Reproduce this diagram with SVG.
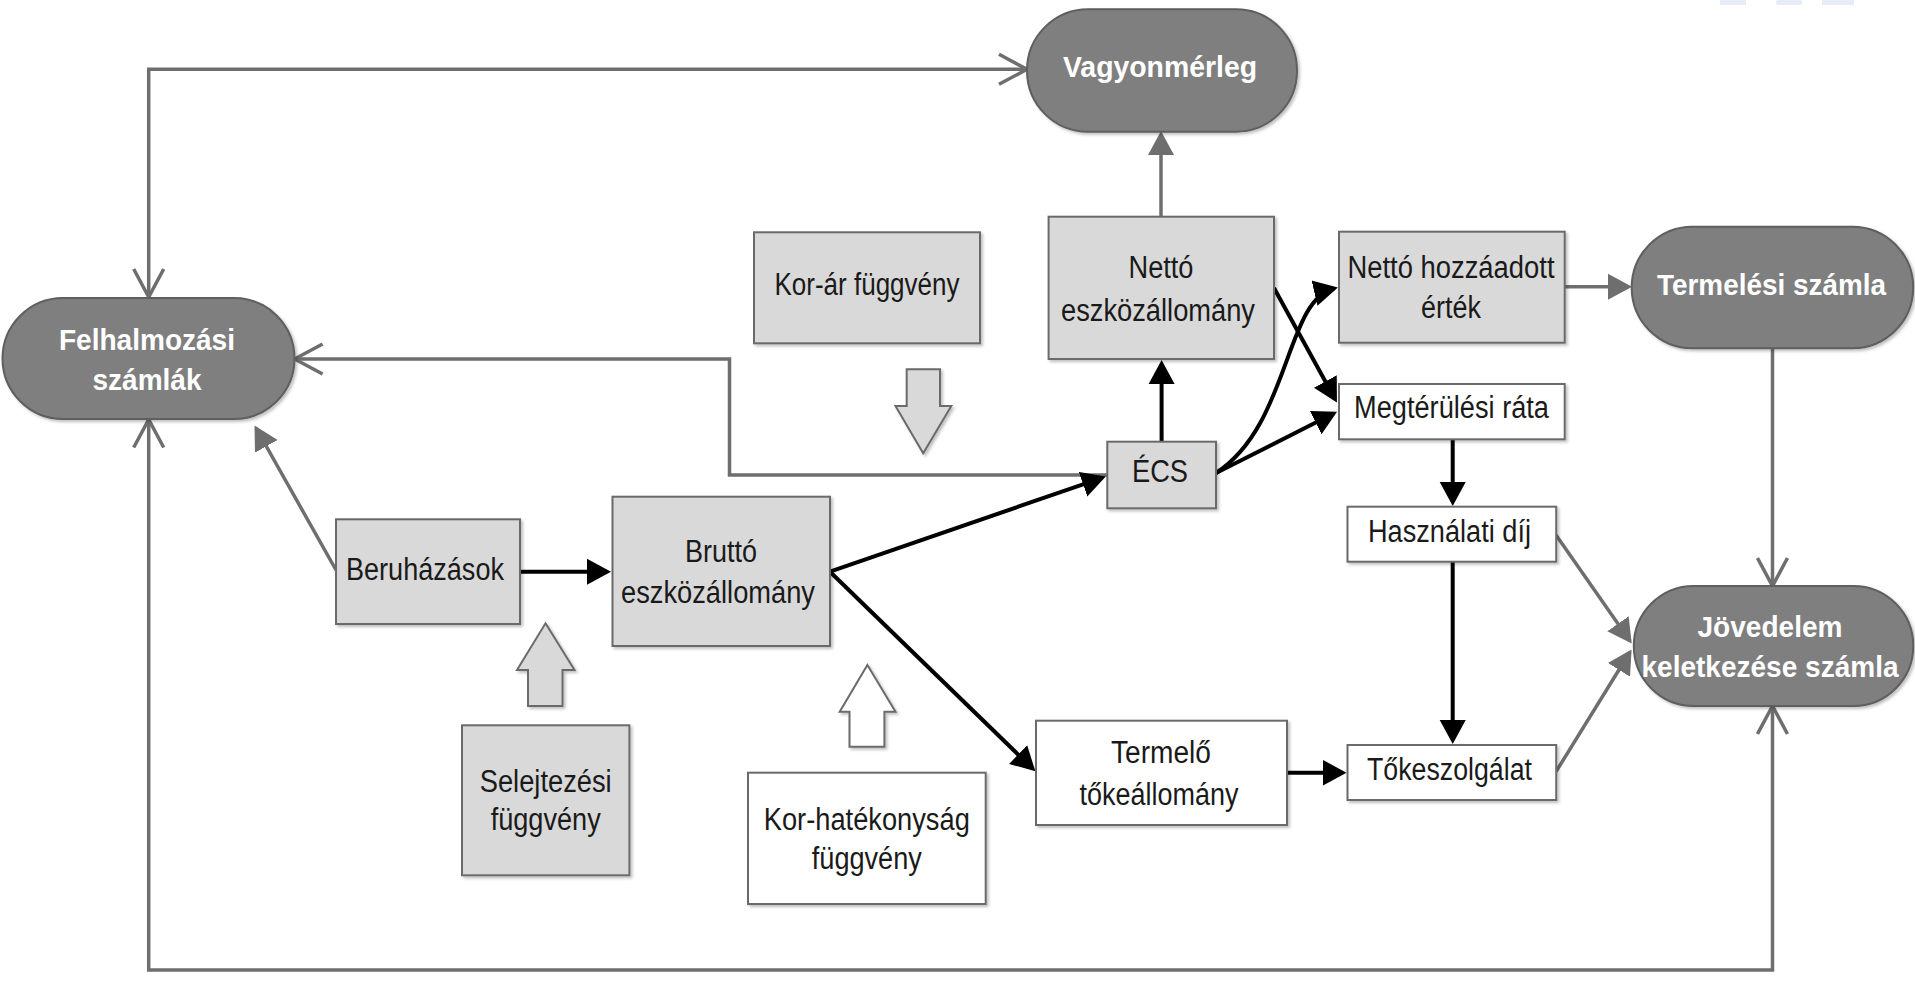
<svg xmlns="http://www.w3.org/2000/svg" width="1915" height="983" viewBox="0 0 1915 983">
<style>
.pill{fill:#7f7f7f;stroke:#5e5e5e;stroke-width:2;filter:url(#sh)}
.gbox{fill:#d9d9d9;stroke:#6b6b6b;stroke-width:2;filter:url(#sh)}
.wbox{fill:#ffffff;stroke:#6b6b6b;stroke-width:2;filter:url(#sh)}
.pt{font-family:"Liberation Sans",Arial,sans-serif;font-weight:bold;font-size:30px;fill:#ffffff;text-anchor:middle}
.bt{font-family:"Liberation Sans",Arial,sans-serif;font-size:31px;fill:#1a1a1a;text-anchor:middle}
.gl{fill:none;stroke:#6e6e6e;stroke-width:3.5}
.bl{fill:none;stroke:#000000;stroke-width:4}
.blk{stroke:#6b6b6b;stroke-width:2;filter:url(#sh)}
</style>
<defs>
<filter id="sh" x="-10%" y="-10%" width="130%" height="130%">
<feDropShadow dx="2" dy="2" stdDeviation="1.5" flood-color="#000" flood-opacity="0.25"/>
</filter>
<marker id="ab" markerUnits="userSpaceOnUse" markerWidth="26" markerHeight="28" refX="20" refY="14" orient="auto">
<path d="M0,1 L24,14 L0,27 z" fill="#000"/>
</marker>
<marker id="ag" markerUnits="userSpaceOnUse" markerWidth="26" markerHeight="28" refX="21" refY="14" orient="auto">
<path d="M0,1 L24,14 L0,27 z" fill="#6e6e6e"/>
</marker>
<marker id="ao" markerUnits="userSpaceOnUse" markerWidth="34" markerHeight="34" refX="30" refY="17" orient="auto-start-reverse">
<path d="M2,2 L30,17 L2,32" fill="none" stroke="#6e6e6e" stroke-width="3.5"/>
</marker>
</defs>
<rect x="0" y="0" width="1915" height="983" fill="#ffffff"/>
<g id="watermark" fill="#e6ecf7">
<rect x="1720" y="0" width="26" height="5"/>
<rect x="1776" y="0" width="26" height="5" rx="2"/>
<rect x="1822" y="0" width="32" height="5"/>
</g>
<g id="connectors">
<path class="gl" d="M1027,69.3 H148.7 V297" marker-start="url(#ao)" marker-end="url(#ao)"/>
<path class="gl" d="M148.7,419.5 V970 H1772.5 V706" marker-start="url(#ao)" marker-end="url(#ao)"/>
<path class="gl" d="M1107,475 H729.5 V359 H294.6" marker-end="url(#ao)"/>
<path class="gl" d="M1772.5,348.3 V586" marker-end="url(#ao)"/>
<path class="gl" d="M336,570 L256,428" marker-end="url(#ag)"/>
<path class="gl" d="M1161,216.7 V134" marker-end="url(#ag)"/>
<path class="gl" d="M1564.7,286.7 H1629" marker-end="url(#ag)"/>
<path class="gl" d="M1556,535 L1630,641" marker-end="url(#ag)"/>
<path class="gl" d="M1556,771.7 L1630,652" marker-end="url(#ag)"/>
<path class="bl" d="M520,571.7 H607" marker-end="url(#ab)"/>
<path class="bl" d="M830,571.7 L1102,477.8" marker-end="url(#ab)"/>
<path class="bl" d="M830,571.7 L1032.5,768.5" marker-end="url(#ab)"/>
<path class="bl" d="M1161.6,441.7 V364" marker-end="url(#ab)"/>
<path class="bl" d="M1216,473 C1290,425 1285,300 1334,288.5" marker-end="url(#ab)"/>
<path class="bl" d="M1274,288 L1335,399" marker-end="url(#ab)"/>
<path class="bl" d="M1216,473 L1333.5,413.5" marker-end="url(#ab)"/>
<path class="bl" d="M1452.7,439.3 V502" marker-end="url(#ab)"/>
<path class="bl" d="M1452.7,561.7 V740" marker-end="url(#ab)"/>
<path class="bl" d="M1287,772.7 H1342.5" marker-end="url(#ab)"/>
</g>
<g id="block-arrows">
<polygon class="blk" fill="#d9d9d9" points="906.7,369.3 940,369.3 940,406 951.3,406 923.2,453.3 895.5,406 906.7,406"/>
<polygon class="blk" fill="#d9d9d9" points="545.5,623.3 574.5,670 562.5,670 562.5,706 528,706 528,670 517,670"/>
<polygon class="blk" fill="#ffffff" points="867.4,665 895.5,711.7 884.4,711.7 884.4,746.7 849.5,746.7 849.5,711.7 839.7,711.7"/>
</g>
<g id="felhalmozasi">
<rect class="pill" x="2.5" y="298" width="292" height="121" rx="60.5"/>
<text class="pt" x="147" y="350" textLength="176" lengthAdjust="spacingAndGlyphs">Felhalmozási</text>
<text class="pt" x="147" y="390" textLength="109" lengthAdjust="spacingAndGlyphs">számlák</text>
</g>
<g id="vagyonmerleg">
<rect class="pill" x="1027" y="9.3" width="270" height="122.4" rx="61"/>
<text class="pt" x="1160" y="76.7" textLength="194" lengthAdjust="spacingAndGlyphs">Vagyonmérleg</text>
</g>
<g id="termelesi-szamla">
<rect class="pill" x="1631.7" y="226.7" width="281.5" height="121.6" rx="60.8"/>
<text class="pt" x="1771.5" y="295" textLength="229" lengthAdjust="spacingAndGlyphs">Termelési számla</text>
</g>
<g id="jovedelem">
<rect class="pill" x="1633.8" y="586" width="279.5" height="120" rx="60"/>
<text class="pt" x="1770" y="636.7" textLength="145" lengthAdjust="spacingAndGlyphs">Jövedelem</text>
<text class="pt" x="1770" y="676.7" textLength="257" lengthAdjust="spacingAndGlyphs">keletkezése számla</text>
</g>
<g id="kor-ar">
<rect class="gbox" x="754" y="232.3" width="226" height="111"/>
<text class="bt" x="867" y="295" textLength="185" lengthAdjust="spacingAndGlyphs">Kor-ár függvény</text>
</g>
<g id="netto-eszkozallomany">
<rect class="gbox" x="1048.6" y="216.7" width="225.4" height="142.3"/>
<text class="bt" x="1161" y="278.3" textLength="65" lengthAdjust="spacingAndGlyphs">Nettó</text>
<text class="bt" x="1158" y="320.7" textLength="194" lengthAdjust="spacingAndGlyphs">eszközállomány</text>
</g>
<g id="netto-hozzaadott">
<rect class="gbox" x="1339" y="231.7" width="225.7" height="111"/>
<text class="bt" x="1451" y="278.3" textLength="207" lengthAdjust="spacingAndGlyphs">Nettó hozzáadott</text>
<text class="bt" x="1451" y="318.3" textLength="60" lengthAdjust="spacingAndGlyphs">érték</text>
</g>
<g id="megterulesi-rata">
<rect class="wbox" x="1339" y="384" width="225.7" height="55.3"/>
<text class="bt" x="1451.5" y="418.3" textLength="195" lengthAdjust="spacingAndGlyphs">Megtérülési ráta</text>
</g>
<g id="ecs">
<rect class="gbox" x="1107.3" y="441.7" width="108.7" height="66.6"/>
<text class="bt" x="1160" y="482.3" textLength="56" lengthAdjust="spacingAndGlyphs">ÉCS</text>
</g>
<g id="beruhazasok">
<rect class="gbox" x="336" y="519.3" width="184" height="104.7"/>
<text class="bt" x="425" y="580" textLength="158" lengthAdjust="spacingAndGlyphs">Beruházások</text>
</g>
<g id="brutto-eszkozallomany">
<rect class="gbox" x="612.5" y="496.7" width="217.5" height="149.3"/>
<text class="bt" x="721" y="561.7" textLength="72" lengthAdjust="spacingAndGlyphs">Bruttó</text>
<text class="bt" x="718" y="602.7" textLength="194" lengthAdjust="spacingAndGlyphs">eszközállomány</text>
</g>
<g id="hasznalati-dij">
<rect class="wbox" x="1347.5" y="506.7" width="208.7" height="55"/>
<text class="bt" x="1449.5" y="541.7" textLength="163" lengthAdjust="spacingAndGlyphs">Használati díj</text>
</g>
<g id="tokeszolgalat">
<rect class="wbox" x="1347.5" y="745" width="208.7" height="55"/>
<text class="bt" x="1449.5" y="780" textLength="165" lengthAdjust="spacingAndGlyphs">Tőkeszolgálat</text>
</g>
<g id="termelo-tokeallomany">
<rect class="wbox" x="1036" y="720.7" width="251" height="104.3"/>
<text class="bt" x="1161" y="763" textLength="100" lengthAdjust="spacingAndGlyphs">Termelő</text>
<text class="bt" x="1159" y="805" textLength="159" lengthAdjust="spacingAndGlyphs">tőkeállomány</text>
</g>
<g id="selejtezesi">
<rect class="gbox" x="462" y="725.3" width="167.4" height="150"/>
<text class="bt" x="545.7" y="791.7" textLength="132" lengthAdjust="spacingAndGlyphs">Selejtezési</text>
<text class="bt" x="545.7" y="830" textLength="110" lengthAdjust="spacingAndGlyphs">függvény</text>
</g>
<g id="kor-hatekonysag">
<rect class="wbox" x="748" y="772.7" width="237.7" height="131.3"/>
<text class="bt" x="866.8" y="830" textLength="206" lengthAdjust="spacingAndGlyphs">Kor-hatékonyság</text>
<text class="bt" x="866.8" y="869" textLength="110" lengthAdjust="spacingAndGlyphs">függvény</text>
</g>
</svg>
